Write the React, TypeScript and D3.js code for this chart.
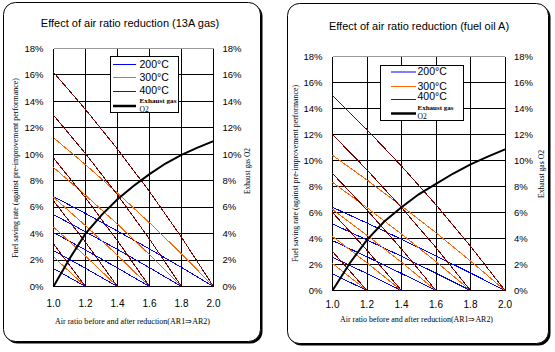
import React from "react";
import * as d3 from "d3";

const W = 555;
const H = 352;

// air ratio after reduction (AR2) on x, fuel saving % on y
const arTicks = [1.0, 1.2, 1.4, 1.6, 1.8, 2.0];
const pctTicks = [0, 2, 4, 6, 8, 10, 12, 14, 16, 18];
const o2Ratios = [1.0, 1.1, 1.2, 1.3, 1.4, 1.5, 1.6, 1.7, 1.8, 1.9, 2.0];

const tempLabels = ["200°C", "300°C", "400°C"];
const tempColors = ["#0000ff", "#ff6600", "#800000"];

// rows = AR1 2.0, 1.8, 1.6, 1.4, 1.2 ; values read at AR2 = 1.0, 1.2, 1.4 ...
const gas200 = [
  [6.8, 5.52, 4.19, 2.84, 1.44, 0],
  [5.44, 4.14, 2.8, 1.42, 0],
  [4.08, 2.76, 1.4, 0],
  [2.72, 1.38, 0],
  [1.36, 0],
];
const gas300 = [
  [11.25, 9.21, 7.07, 4.82, 2.47, 0],
  [9.0, 6.9, 4.71, 2.41, 0],
  [6.75, 4.6, 2.36, 0],
  [4.5, 2.3, 0],
  [2.25, 0],
];
const gas400 = [
  [16.2, 13.39, 10.39, 7.18, 3.72, 0],
  [12.96, 10.05, 6.93, 3.59, 0],
  [9.72, 6.7, 3.46, 0],
  [6.48, 3.35, 0],
  [3.24, 0],
];
const gasO2 = [0, 2.1, 4.0, 5.4, 6.6, 7.6, 8.5, 9.3, 9.95, 10.5, 11.0];

const oil200 = [
  [6.4, 5.19, 3.94, 2.66, 1.35, 0],
  [5.12, 3.89, 2.63, 1.33, 0],
  [3.84, 2.59, 1.31, 0],
  [2.56, 1.3, 0],
  [1.28, 0],
];
const oil300 = [
  [10.4, 8.5, 6.51, 4.44, 2.27, 0],
  [8.32, 6.37, 4.34, 2.22, 0],
  [6.24, 4.25, 2.17, 0],
  [4.16, 2.12, 0],
  [2.08, 0],
];
const oil400 = [
  [15.0, 12.37, 9.57, 6.59, 3.41, 0],
  [12.0, 9.28, 6.38, 3.3, 0],
  [9.0, 6.19, 3.19, 0],
  [6.0, 3.09, 0],
  [3.0, 0],
];
const oilO2 = [0, 2.1, 3.9, 5.3, 6.4, 7.4, 8.2, 9.0, 9.7, 10.3, 10.85];

const sans = "'Liberation Sans', Arial, sans-serif";
const serif = "'Liberation Serif', 'Times New Roman', serif";

const panels = [
  {
    title: "Effect of air ratio reduction (13A gas)",
    series: [gas200, gas300, gas400],
    o2: gasO2,
    frame: { x: 3.5, y: 2.5, w: 257, h: 339 },
    plot: { left: 53.5, right: 213.5, top: 48.5, bottom: 286.5 },
    titleX: 130, titleY: 27,
    xTickY: 306.5,
    xTitle: { x: 132.5, y: 324, len: 155 },
    yTitle: { x: 17.5, y: 168, len: 180 },
    o2Title: { x: 250, y: 171, len: 46 },
    legend: { x: 110.5, y: 56.5, w: 68, h: 56, lineX0: 113, lineX1: 136, textX: 139.5, rows: [64.5, 77.5, 91.5, 106], textY: [67.5, 80.5, 94], exY: 103, o2Y: 111.5, exLen: 37 },
  },
  {
    title: "Effect of air ratio reduction (fuel oil A)",
    series: [oil200, oil300, oil400],
    o2: oilO2,
    frame: { x: 287.5, y: 3.5, w: 261, h: 340 },
    plot: { left: 332.5, right: 505, top: 56.5, bottom: 290.5 },
    titleX: 419, titleY: 29.5,
    xTickY: 307.5,
    xTitle: { x: 416.5, y: 321.5, len: 153 },
    yTitle: { x: 298, y: 173.5, len: 177 },
    o2Title: { x: 543.5, y: 174, len: 48 },
    legend: { x: 380.5, y: 65.5, w: 83, h: 55, lineX0: 391, lineX1: 416, textX: 417.5, rows: [72, 86.5, 99.5, 113.5], textY: [74.5, 89.5, 100], exY: 110, o2Y: 118.5, exLen: 36 },
  },
];

type Cfg = (typeof panels)[number];

function Panel({ cfg }: { cfg: Cfg }) {
  const { plot, frame, legend } = cfg;
  const x = d3.scaleLinear().domain([1, 2]).range([plot.left, plot.right]);
  const y = d3.scaleLinear().domain([0, 18]).range([plot.bottom, plot.top]);
  const line = d3
    .line<[number, number]>()
    .x((d) => x(d[0]))
    .y((d) => y(d[1]));

  return (
    <g>
      {/* frame with drop shadow */}
      <rect x={frame.x + 2} y={frame.y + 2} width={frame.w} height={frame.h} rx={12} fill="#000" />
      <rect x={frame.x} y={frame.y} width={frame.w} height={frame.h} rx={12} fill="#fff" stroke="#000" />

      <text x={cfg.titleX} y={cfg.titleY} textAnchor="middle" fontFamily={sans} fontSize={11}>
        {cfg.title}
      </text>

      {/* grid */}
      {pctTicks.map((t) => (
        <line key={"h" + t} x1={plot.left} x2={plot.right} y1={y(t)} y2={y(t)}
          stroke={t === 18 ? "#999" : "#000"} shapeRendering="crispEdges" />
      ))}
      {arTicks.map((t) => (
        <line key={"v" + t} x1={x(t)} x2={x(t)} y1={plot.top} y2={plot.bottom}
          stroke="#000" shapeRendering="crispEdges" />
      ))}

      {/* tick labels */}
      {pctTicks.map((t) => (
        <g key={"l" + t} fontFamily={sans} fontSize={9.5}>
          <text x={plot.left - 10} y={y(t)} dy="0.35em" textAnchor="end">{t}%</text>
          <text x={plot.right + 9} y={y(t)} dy="0.35em">{t}%</text>
        </g>
      ))}
      {arTicks.map((t) => (
        <text key={"x" + t} x={x(t)} y={cfg.xTickY} textAnchor="middle" fontFamily={sans} fontSize={10}>
          {t.toFixed(1)}
        </text>
      ))}

      {/* axis titles */}
      <text x={cfg.xTitle.x} y={cfg.xTitle.y} textAnchor="middle" fontFamily={serif} fontSize={8}
        textLength={cfg.xTitle.len} lengthAdjust="spacingAndGlyphs">
        Air ratio before and after reduction(AR1⇒AR2)
      </text>
      <text transform={`translate(${cfg.yTitle.x},${cfg.yTitle.y}) rotate(-90)`} textAnchor="middle"
        fontFamily={serif} fontSize={8} textLength={cfg.yTitle.len} lengthAdjust="spacingAndGlyphs">
        Fuel saving rate (against pre-improvement performance)
      </text>
      <text transform={`translate(${cfg.o2Title.x},${cfg.o2Title.y}) rotate(-90)`} textAnchor="middle"
        fontFamily={serif} fontSize={8} textLength={cfg.o2Title.len} lengthAdjust="spacingAndGlyphs">
        Exhaust gas O2
      </text>

      {/* saving-rate curves */}
      {cfg.series.map((rows, si) =>
        rows.map((vals, ri) => (
          <path key={si + "-" + ri}
            d={line(vals.map((v, i) => [arTicks[i], v] as [number, number])) || ""}
            fill="none" stroke={tempColors[si]} strokeWidth={1} shapeRendering="crispEdges" />
        ))
      )}

      {/* exhaust O2 */}
      <path d={line(cfg.o2.map((v, i) => [o2Ratios[i], v] as [number, number])) || ""}
        fill="none" stroke="#000" strokeWidth={2} />

      {/* legend */}
      <rect x={legend.x} y={legend.y} width={legend.w} height={legend.h} fill="#fff" stroke="#000" />
      {tempLabels.map((lab, i) => (
        <g key={lab}>
          <line x1={legend.lineX0} x2={legend.lineX1} y1={legend.rows[i]} y2={legend.rows[i]}
            stroke={tempColors[i]} />
          <text x={legend.textX} y={legend.textY[i]} fontFamily={sans} fontSize={10.5}>{lab}</text>
        </g>
      ))}
      <line x1={legend.lineX0} x2={legend.lineX1} y1={legend.rows[3]} y2={legend.rows[3]}
        stroke="#000" strokeWidth={2.5} />
      <text x={legend.textX} y={legend.exY} fontFamily={serif} fontSize={7} fontWeight="bold"
        textLength={legend.exLen} lengthAdjust="spacingAndGlyphs">Exhaust gas</text>
      <text x={legend.textX} y={legend.o2Y} fontFamily={serif} fontSize={7.5}>O2</text>
    </g>
  );
}

export default function App() {
  return (
    <svg width={W} height={H} viewBox={`0 0 ${W} ${H}`}
      style={{ position: "absolute", left: 0, top: 0, background: "#fff" }}>
      {panels.map((p) => (
        <Panel key={p.title} cfg={p} />
      ))}
    </svg>
  );
}
